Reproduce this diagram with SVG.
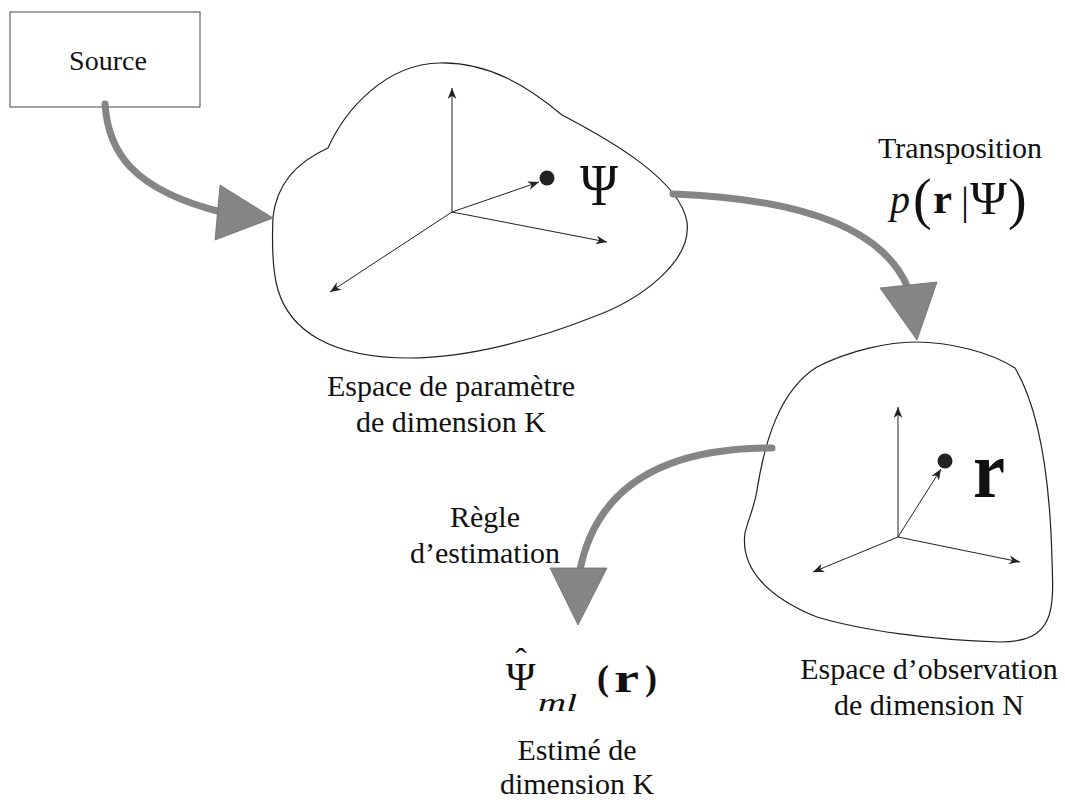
<svg xmlns="http://www.w3.org/2000/svg" width="1065" height="802" viewBox="0 0 1065 802">
<defs>
<style>
.lbl{font-family:"Liberation Serif","DejaVu Serif",serif;font-size:30px;fill:#111;text-anchor:middle}
.math{font-family:"Liberation Serif","DejaVu Serif",serif;fill:#111}
.blob{fill:none;stroke:#222;stroke-width:1.2}
.axis{fill:none;stroke:#222;stroke-width:1;marker-end:url(#ah)}
.shaft{fill:none;stroke:#858585;stroke-width:7;stroke-linecap:round}
.head{fill:#858585;stroke:#6e6e6e;stroke-width:0.8}
</style>
<marker id="ah" viewBox="0 0 10 8" refX="10" refY="4" markerWidth="11" markerHeight="9" markerUnits="userSpaceOnUse" orient="auto">
<path d="M0,0 L10,4 L0,8 L3,4 Z" fill="#222"/>
</marker>
</defs>
<rect width="1065" height="802" fill="#fff"/>

<g id="source">
<rect x="10" y="12" width="190" height="95" fill="none" stroke="#444" stroke-width="1"/>
<text class="lbl" x="108" y="70" style="font-size:28px">Source</text>
</g>

<g id="param-space">
<path class="blob" d="M273,217 C276,190 290,165 328,148 C345,110 385,64 440,63 C490,62 530,88 562,115 C610,140 680,180 687,222 C692,262 640,300 593,317 C540,338 470,358 410,358 C330,358 290,330 278,290 C272,270 272,240 273,217 Z"/>
<line class="axis" x1="452" y1="212" x2="452" y2="88"/>
<line class="axis" x1="452" y1="212" x2="330" y2="292"/>
<line class="axis" x1="452" y1="212" x2="607" y2="242"/>
<line class="axis" x1="452" y1="212" x2="539" y2="182"/>
<circle cx="547" cy="178" r="7.5" fill="#222"/>
<text class="math" x="580" y="205" font-size="60" textLength="38" lengthAdjust="spacingAndGlyphs">Ψ</text>
<text class="lbl" x="451" y="396">Espace de paramètre</text>
<text class="lbl" x="451" y="432">de dimension K</text>
</g>

<g id="obs-space">
<path class="blob" d="M915,342 C950,342 990,352 1015,368 C1040,410 1050,480 1052,560 C1054,610 1055,642 1000,642 C930,640 860,630 817,617 C770,598 740,570 745,533 C748,520 755,505 757,490 C765,440 780,390 817,367 C850,350 890,342 915,342 Z"/>
<line class="axis" x1="898" y1="537" x2="898" y2="407"/>
<line class="axis" x1="898" y1="537" x2="813" y2="572"/>
<line class="axis" x1="898" y1="537" x2="1020" y2="562"/>
<line class="axis" x1="898" y1="537" x2="941" y2="469"/>
<circle cx="945" cy="461" r="7.5" fill="#222"/>
<text class="math" x="973" y="497" font-size="80" font-weight="bold" textLength="32" lengthAdjust="spacingAndGlyphs">r</text>
<text class="lbl" x="929" y="679">Espace d’observation</text>
<text class="lbl" x="929" y="715">de dimension N</text>
</g>

<g id="transposition-label">
<text class="lbl" x="960" y="158">Transposition</text>
<text class="math" x="890" y="213" font-size="40" font-style="italic">p</text>
<text class="math" x="913" y="218" font-size="56">(</text>
<text class="math" x="933" y="213" font-size="40" font-weight="bold" textLength="19" lengthAdjust="spacingAndGlyphs">r</text>
<text class="math" x="961" y="214" font-size="40">|</text>
<text class="math" x="970" y="214" font-size="46" textLength="37" lengthAdjust="spacingAndGlyphs">Ψ</text>
<text class="math" x="1008" y="218" font-size="56">)</text>
</g>

<g id="estimation-label">
<text class="lbl" x="485" y="527">Règle</text>
<text class="lbl" x="485" y="563">d’estimation</text>
</g>

<g id="estimate">
<text class="math" x="506" y="690" font-size="40">Ψ<tspan x="521" y="672" font-size="34" text-anchor="middle">ˆ</tspan></text>
<text class="math" x="538" y="711" font-size="26" font-style="italic" textLength="39" lengthAdjust="spacingAndGlyphs">ml</text>
<text class="math" x="597" y="690" font-size="36" font-weight="bold">(</text>
<text class="math" x="614" y="692" font-size="40" font-weight="bold" textLength="25" lengthAdjust="spacingAndGlyphs">r</text>
<text class="math" x="645" y="690" font-size="36" font-weight="bold">)</text>
<text class="lbl" x="577" y="760">Estimé de</text>
<text class="lbl" x="577" y="794">dimension K</text>
</g>

<g id="connectors">
<path class="shaft" d="M105,104 C108,150 130,190 225,213"/>
<polygon class="head" points="220,185 215,240 273,218"/>
<path class="shaft" d="M673,194 C780,198 880,220 908,288"/>
<polygon class="head" points="880,288 937,282 917,340"/>
<path class="shaft" d="M772,448 C690,448 600,470 580,570"/>
<polygon class="head" points="550,568 607,568 578,625"/>
</g>
</svg>
